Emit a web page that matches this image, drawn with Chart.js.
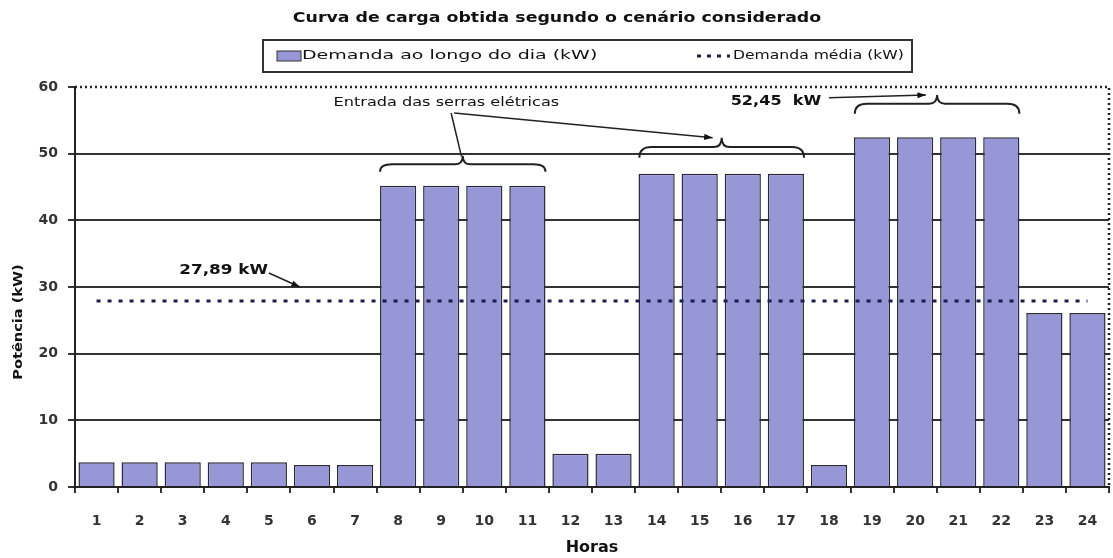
<!DOCTYPE html>
<html>
<head>
<meta charset="utf-8">
<script src="https://cdn.jsdelivr.net/npm/chart.js@4.4.0/dist/chart.umd.min.js"></script>
<style>
  html, body { margin: 0; padding: 0; background: #fff; }
</style>
</head>
<body>
<canvas id="curva" width="1113" height="558"></canvas>
<script>
const horas = ['1', '2', '3', '4', '5', '6', '7', '8', '9', '10', '11', '12',
    '13', '14', '15', '16', '17', '18', '19', '20', '21', '22', '23', '24'];
const demanda = [3.7, 3.7, 3.7, 3.7, 3.7, 3.3, 3.3, 45.2, 45.2, 45.2, 45.2, 5.0,
    5.0, 47.0, 47.0, 47.0, 47.0, 3.3, 52.45, 52.45, 52.45, 52.45, 26.1, 26.1];
const demandaMedia = [27.89, 27.89, 27.89, 27.89, 27.89, 27.89, 27.89, 27.89, 27.89, 27.89, 27.89, 27.89,
    27.89, 27.89, 27.89, 27.89, 27.89, 27.89, 27.89, 27.89, 27.89, 27.89, 27.89, 27.89];
const yTicks = [0, 10, 20, 30, 40, 50, 60];

const titulo = 'Curva de carga obtida segundo o cenário considerado';
const tituloY = 'Potência (kW)';
const corBarra = '#9797d8';
const corLinha = '#1c1c4a';

const fmt = v => v.toFixed(2).replace('.', ',') + ' kW';

// the original text is wide and squat, so stretch it sideways
function wideText(ctx, text, x, y, sx) {
    ctx.save();
    ctx.translate(x, y);
    ctx.scale(sx, 1);
    ctx.fillText(text, 0, 0);
    ctx.restore();
}

function arrow(ctx, x1, y1, x2, y2) {
    ctx.beginPath();
    ctx.moveTo(x1, y1);
    ctx.lineTo(x2, y2);
    ctx.stroke();
    const a = Math.atan2(y2 - y1, x2 - x1);
    ctx.beginPath();
    ctx.moveTo(x2, y2);
    ctx.lineTo(x2 - 9 * Math.cos(a - 0.35), y2 - 9 * Math.sin(a - 0.35));
    ctx.lineTo(x2 - 9 * Math.cos(a + 0.35), y2 - 9 * Math.sin(a + 0.35));
    ctx.closePath();
    ctx.fill();
}

function brace(ctx, x1, x2, yFlat, yEnd, yPeak) {
    const xm = (x1 + x2) / 2;
    ctx.beginPath();
    ctx.moveTo(x1, yEnd);
    ctx.quadraticCurveTo(x1, yFlat, x1 + 12, yFlat);
    ctx.lineTo(xm - 8, yFlat);
    ctx.quadraticCurveTo(xm, yFlat, xm, yPeak);
    ctx.quadraticCurveTo(xm, yFlat, xm + 8, yFlat);
    ctx.lineTo(x2 - 12, yFlat);
    ctx.quadraticCurveTo(x2, yFlat, x2, yEnd);
    ctx.stroke();
}

const extras = {
    id: 'extras',
    afterDraw(chart) {
        const { ctx, chartArea: a, scales: { x, y } } = chart;
        const X = v => x.getPixelForValue(v);
        const Y = v => y.getPixelForValue(v);
        ctx.save();

        // dotted frame on top and right
        ctx.strokeStyle = '#222';
        ctx.lineWidth = 2.5;
        ctx.setLineDash([2, 3]);
        ctx.beginPath();
        ctx.moveTo(a.left, a.top);
        ctx.lineTo(a.right, a.top);
        ctx.lineTo(a.right, a.bottom);
        ctx.stroke();
        ctx.setLineDash([]);

        // title
        ctx.fillStyle = '#111';
        ctx.font = 'bold 14px "DejaVu Sans"';
        ctx.textAlign = 'center';
        ctx.textBaseline = 'middle';
        wideText(ctx, titulo, 557, 18, 1.24);

        // y axis title, sits a bit below the middle in the original
        ctx.save();
        ctx.translate(19, 322);
        ctx.rotate(-Math.PI / 2);
        ctx.font = 'bold 13px "DejaVu Sans"';
        wideText(ctx, tituloY, 0, 0, 1.12);
        ctx.restore();

        // legend
        const ds = chart.data.datasets;
        ctx.strokeStyle = '#333';
        ctx.lineWidth = 2;
        ctx.strokeRect(263, 40, 649, 32);
        ctx.fillStyle = corBarra;
        ctx.fillRect(277, 51, 24, 10);
        ctx.lineWidth = 1;
        ctx.strokeStyle = '#333';
        ctx.strokeRect(277, 51, 24, 10);
        ctx.fillStyle = '#111';
        ctx.font = '13px "DejaVu Sans"';
        ctx.textAlign = 'left';
        wideText(ctx, ds[0].label, 302, 56, 1.46);
        ctx.strokeStyle = corLinha;
        ctx.lineWidth = 3;
        ctx.setLineDash([4, 6]);
        ctx.beginPath();
        ctx.moveTo(697, 56);
        ctx.lineTo(730, 56);
        ctx.stroke();
        ctx.setLineDash([]);
        wideText(ctx, ds[1].label, 733, 56, 1.2);

        // annotations
        ctx.strokeStyle = '#222';
        ctx.fillStyle = '#111';
        ctx.lineWidth = 1.5;
        ctx.font = 'bold 14px "DejaVu Sans"';
        ctx.textAlign = 'center';
        wideText(ctx, fmt(demandaMedia[0]), X(2.95), Y(32.5), 1.2);
        arrow(ctx, X(4.0), Y(32.1), X(4.72), Y(30.0));

        wideText(ctx, fmt(Math.max(...demanda)).replace(' ', '  '), X(15.77), Y(57.9), 1.15);
        arrow(ctx, X(17.0), Y(58.4), X(19.25), Y(58.8));

        ctx.font = '13px "DejaVu Sans"';
        wideText(ctx, 'Entrada das serras elétricas', X(8.12), Y(57.6), 1.24);
        ctx.beginPath();
        ctx.moveTo(X(8.23), Y(56.1));
        ctx.lineTo(X(8.47), Y(49.6));
        ctx.stroke();
        arrow(ctx, X(8.3), Y(56.1), X(14.3), Y(52.4));

        ctx.lineWidth = 2;
        brace(ctx, X(6.58), X(10.42), Y(48.4), Y(47.3), Y(49.7));
        brace(ctx, X(12.6), X(16.42), Y(51.0), Y(49.4), Y(52.4));
        brace(ctx, X(17.6), X(21.42), Y(57.5), Y(56.0), Y(58.8));

        ctx.restore();
    }
};

new Chart(document.getElementById('curva'), {
    data: {
        labels: horas,
        datasets: [
            {
                type: 'bar',
                label: 'Demanda ao longo do dia (kW)',
                data: demanda,
                backgroundColor: corBarra,
                borderColor: '#2a2a3a',
                borderWidth: 1.5,
                barPercentage: 0.84,
                categoryPercentage: 1.0,
                order: 2
            },
            {
                type: 'line',
                label: 'Demanda média (kW)',
                data: demandaMedia,
                borderColor: corLinha,
                borderWidth: 3,
                borderDash: [4, 7],
                pointRadius: 0,
                fill: false,
                order: 1
            }
        ]
    },
    options: {
        responsive: false,
        animation: false,
        devicePixelRatio: 1,
        layout: { padding: { top: 87, right: 4, bottom: 0, left: 0 } },
        plugins: {
            legend: { display: false },
            title: { display: false },
            tooltip: { enabled: false }
        },
        scales: {
            x: {
                offset: true,
                grid: { drawOnChartArea: false, drawTicks: true, tickLength: 6, color: '#333', lineWidth: 2 },
                border: { color: '#222', width: 2 },
                ticks: { color: '#333', font: { family: 'DejaVu Sans', size: 14, weight: 'bold' }, padding: 20, maxRotation: 0, autoSkip: false },
                title: { display: true, text: 'Horas', color: '#111', font: { family: 'DejaVu Sans', size: 16, weight: 'bold' }, padding: { top: 0, bottom: 1 } },
                afterFit(s) { s.height = 71; s.paddingLeft = 0; s.paddingRight = 0; }
            },
            y: {
                min: 0,
                max: 60,
                afterBuildTicks(s) { s.ticks = yTicks.map(v => ({ value: v })); },
                grid: {
                    color: c => c.tick && c.tick.value === 60 ? 'rgba(0,0,0,0)' : '#333',
                    tickColor: '#333',
                    lineWidth: 2,
                    tickLength: 7
                },
                border: { color: '#222', width: 2 },
                ticks: { color: '#333', font: { family: 'DejaVu Sans', size: 14, weight: 'bold' }, padding: 10 },
                afterFit(s) { s.width = 75; }
            }
        }
    },
    plugins: [extras]
});
</script>
</body>
</html>
